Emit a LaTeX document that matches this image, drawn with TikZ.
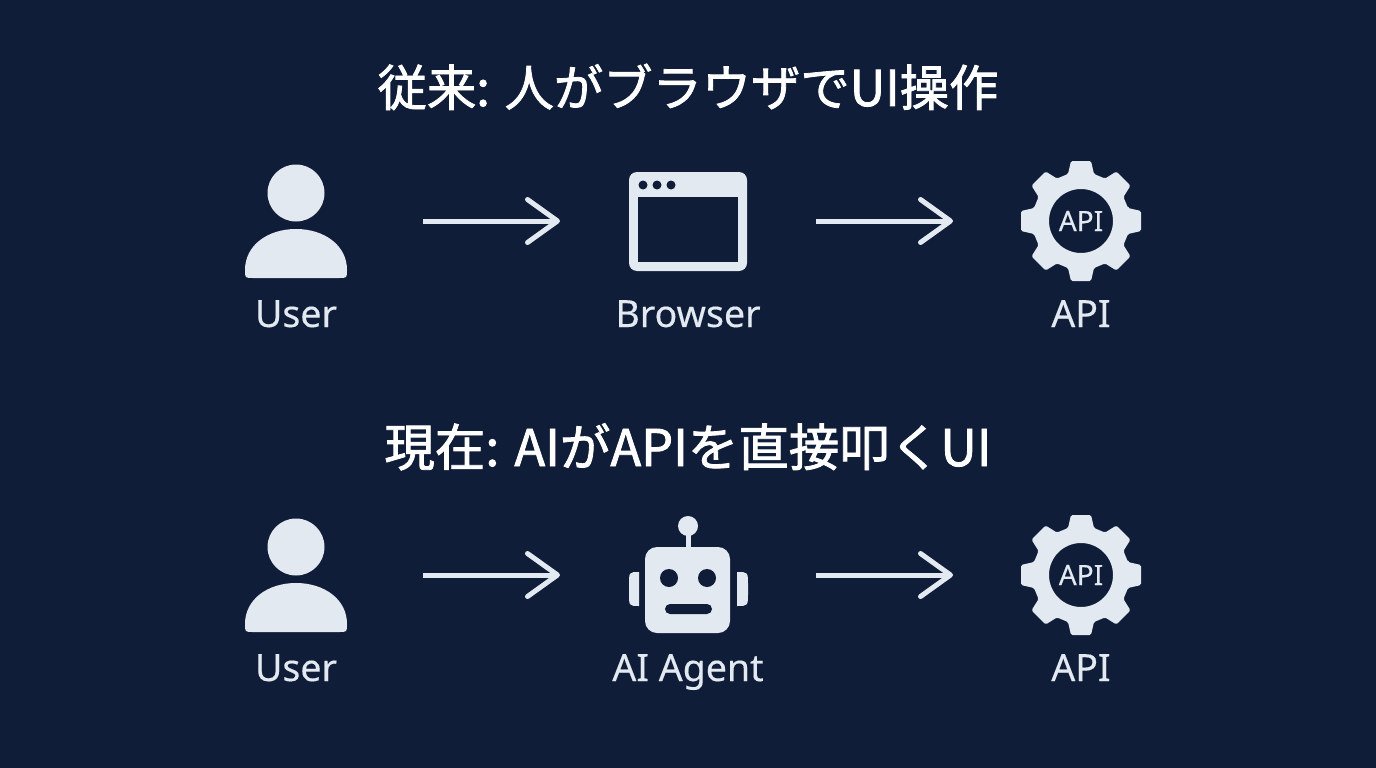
\documentclass[tikz,border=0pt]{standalone}
\usepackage{fontspec}
\usepackage{xcolor}
\usetikzlibrary{arrows.meta, positioning}
\setmainfont[FakeBold=0.3]{Noto Sans}
\newfontfamily\cjkfont[FakeBold=1.6]{Noto Sans CJK JP}
\definecolor{bgnavy}{RGB}{16,29,56}
\definecolor{iconpale}{RGB}{226,233,241}
\tikzset{
  slot/.style={minimum height=100pt, inner sep=0pt, outer sep=0pt},
  flow/.style={draw=iconpale, line width=5pt, shorten <=70pt, shorten >=70pt,
    -{Straight Barb[length=30pt, width=43pt, line width=5pt, round]}},
  title/.style={anchor=base, text=white, font=\cjkfont\fontsize{#1}{50}\selectfont},
  label/.style={anchor=base, text=iconpale, font=\fontsize{37.5}{37.5}\selectfont},
  pics/usericon/.style={code={
    \fill[iconpale] (0,-28) circle (28.5pt);
    \fill[iconpale] (-43,57) .. controls (-51,57) .. (-51,49)
      .. controls (-51,24) and (-28,8) .. (0,8)
      .. controls (28,8) and (51,24) .. (51,49)
      .. controls (51,57) .. (43,57) -- cycle;
  }},
  pics/browsericon/.style={code={
    \fill[iconpale, rounded corners=8pt] (-59,-49) rectangle (59,50);
    \fill[bgnavy] (-50,-24) rectangle (50,41);
    \foreach \dotx in {-45,-31,-17}
      \fill[bgnavy] (\dotx,-36) circle (4.5pt);
  }},
  pics/gearicon/.style={code={
    \fill[iconpale, even odd rule, rounded corners=1.5pt] (47,-13)
      \foreach \ang in {0,45,...,315} {
        -- ([rotate=-\ang]47,-13) -- ([rotate=-\ang]60,-10)
        -- ([rotate=-\ang]60,10) -- ([rotate=-\ang]47,13)
      } -- cycle [sharp corners] (0,0) circle (32pt);
    \node[text=iconpale, font=\fontsize{28}{28}\selectfont, inner sep=0pt] (-name) at (0,0) {API};
  }},
  pics/roboticon/.style={code={
    \fill[iconpale] (-2.5,-49) rectangle (2.5,-25);
    \fill[iconpale] (0,-49) circle (10pt);
    \fill[iconpale, rounded corners=12pt] (-43,-28) rectangle (42,58);
    \fill[iconpale] (-49,-3) .. controls (-59,-3) .. (-59,10) -- (-59,18)
      .. controls (-59,31) .. (-49,31) -- cycle;
    \fill[iconpale] (49,-3) .. controls (60,-3) .. (60,10) -- (60,18)
      .. controls (60,31) .. (49,31) -- cycle;
    \fill[bgnavy] (-19,3) circle (9pt);
    \fill[bgnavy] (19,3) circle (9pt);
    \fill[bgnavy, rounded corners=5pt] (-23,29) rectangle (24,39);
  }},
}
\begin{document}
\begin{tikzpicture}[x=1pt, y=-1pt]
  \fill[bgnavy] (0,0) rectangle (1376,768);
  \useasboundingbox (0,0) rectangle (1376,768);

  \node[title=49.3] (title1) at (688,106) {従来: 人がブラウザでUI操作};
  \node[title=50.5] (title2) at (688,466) {現在: AIがAPIを直接叩くUI};

  \node[slot, minimum width=114pt] (user1) at (296,221) {};
  \node[slot, minimum width=116pt] (browser1) at (688,221) {};
  \node[slot, minimum width=116pt] (api1) at (1081,221) {};
  \node[slot, minimum width=114pt] (user2) at (296,575) {};
  \node[slot, minimum width=116pt] (agent2) at (688,575) {};
  \node[slot, minimum width=116pt] (api2) at (1081,575) {};

  \pic at (user1) {usericon};
  \pic at (browser1) {browsericon};
  \pic (gear1) at (api1) {gearicon};
  \pic at (user2) {usericon};
  \pic at (agent2) {roboticon};
  \pic (gear2) at (api2) {gearicon};

  \path[flow] (user1) -- (browser1);
  \path[flow] (browser1) -- (api1);
  \path[flow] (user2) -- (agent2);
  \path[flow] (agent2) -- (api2);

  \node[label] (userlabel1) at (296,327) {User};
  \node[label] (browserlabel) at (688,327) {Browser};
  \node[label] (apilabel1) at (1081,327) {API};
  \node[label] (userlabel2) at (296,681) {User};
  \node[label] (agentlabel) at (688,681) {AI Agent};
  \node[label] (apilabel2) at (1081,681) {API};
\end{tikzpicture}
\end{document}
